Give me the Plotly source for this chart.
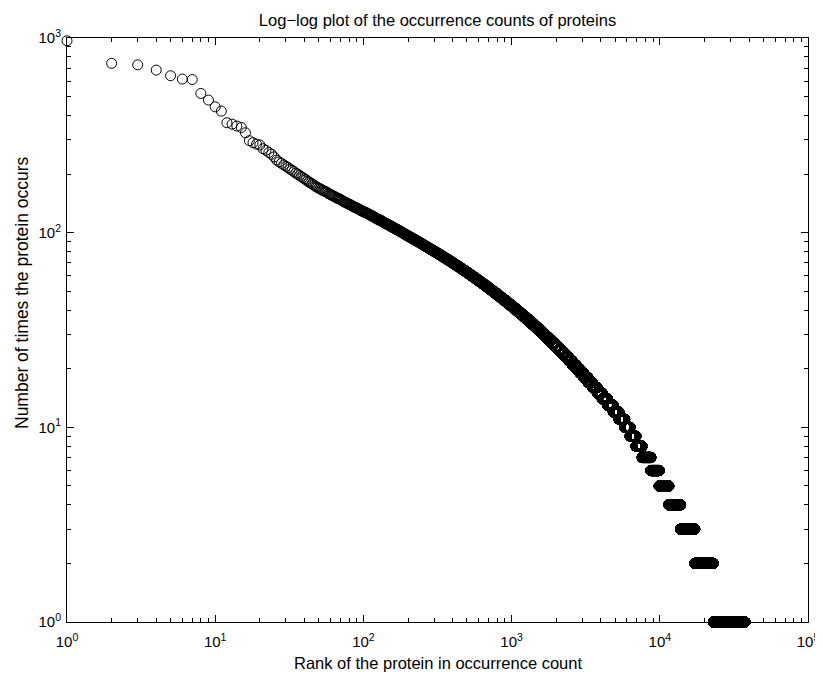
import plotly.graph_objects as go

# ---- data ----
# occurrence counts of the top-ranked proteins (ranks 1..104)
head_counts = [968, 741, 728, 684, 640, 615, 612, 519, 480, 443,
               421, 367, 361, 353, 347, 326, 297, 290, 285, 282,
               270, 265, 258, 253, 245, 236, 231, 227, 223, 219,
               216, 212, 209, 206, 202, 200, 197, 194, 192, 189,
               187, 184, 182, 180, 178, 176, 174, 172, 171, 169,
               168, 167, 165, 164, 163, 162, 161, 159, 158, 157,
               156, 155, 154, 153, 152, 151, 150, 150, 149, 148,
               147, 146, 145, 144, 144, 143, 142, 141, 141, 140,
               139, 139, 138, 137, 137, 136, 135, 135, 134, 134,
               133, 133, 132, 131, 131, 130, 130, 129, 129, 128,
               128, 127, 127, 127]

# remaining proteins: count level and the last rank that holds this count
level_counts = [126, 125, 124, 123, 122, 121, 120, 119, 118, 117,
                116, 115, 114, 113, 112, 111, 110, 109, 108, 107,
                106, 105, 104, 103, 102, 101, 100, 99, 98, 97,
                96, 95, 94, 93, 92, 91, 90, 89, 88, 87,
                86, 85, 84, 83, 82, 81, 80, 79, 78, 77,
                76, 75, 74, 73, 72, 71, 70, 69, 68, 67,
                66, 65, 64, 63, 62, 61, 60, 59, 58, 57,
                56, 55, 54, 53, 52, 51, 50, 49, 48, 47,
                46, 45, 44, 43, 42, 41, 40, 39, 38, 37,
                36, 35, 34, 33, 32, 31, 30, 29, 28, 27,
                26, 25, 24, 23, 22, 21, 20, 19, 18, 17,
                16, 15, 14, 13, 12, 11, 10, 9, 8, 7,
                6, 5, 4, 3, 2, 1]
level_last_rank = [106, 108, 110, 112, 115, 117, 119, 122, 124, 127,
                   130, 133, 135, 138, 141, 144, 148, 151, 154, 158,
                   161, 165, 169, 173, 177, 181, 185, 189, 194, 198,
                   203, 208, 213, 219, 224, 230, 236, 242, 248, 254,
                   261, 268, 275, 282, 290, 298, 306, 315, 324, 333,
                   342, 352, 362, 373, 384, 395, 406, 418, 431, 444,
                   457, 471, 486, 501, 516, 532, 549, 567, 585, 604,
                   624, 645, 666, 689, 713, 737, 763, 790, 819, 848,
                   880, 913, 947, 984, 1022, 1063, 1105, 1150, 1198, 1248,
                   1301, 1357, 1417, 1480, 1547, 1619, 1696, 1778, 1865, 1960,
                   2061, 2171, 2291, 2420, 2561, 2716, 2885, 3072, 3280, 3511,
                   3780, 4085, 4440, 4850, 5300, 5800, 6300, 6900, 7600, 8700,
                   9900, 11500, 13800, 17200, 23000, 37500]

x_tick_values = [1, 10, 100, 1000, 10000, 100000]
x_tick_labels = ["10<sup>0</sup>", "10<sup>1</sup>", "10<sup>2</sup>",
                 "10<sup>3</sup>", "10<sup>4</sup>", "10<sup>5</sup>"]
y_tick_values = [1, 10, 100, 1000]
y_tick_labels = ["10<sup>0</sup>", "10<sup>1</sup>", "10<sup>2</sup>", "10<sup>3</sup>"]

title_text = "Log\u2212log plot of the occurrence counts of proteins"
x_label = "Rank of the protein in occurrence count"
y_label = "Number of times the protein occurs"

# ---- expand to one point per protein (rank, count) ----
ranks = list(range(1, len(head_counts) + 1))
counts = list(head_counts)
prev = len(head_counts)
for c, last in zip(level_counts, level_last_rank):
    ranks.extend(range(prev + 1, last + 1))
    counts.extend([c] * (last - prev))
    prev = last

x_minor = [k * 10 ** d for d in range(0, 5) for k in range(2, 10)]
y_minor = [k * 10 ** d for d in range(0, 3) for k in range(2, 10)]

FONT = "Liberation Sans, Arial, Helvetica, sans-serif"

# the page body adds an 8 px offset; the figure is sized so that the
# plot box lands on x 67..808, y 38..622 of the 823x674 window
W, H = 815, 666

fig = go.Figure()
fig.add_trace(go.Scatter(
    x=ranks, y=counts, mode="markers",
    marker=dict(symbol="circle-open", size=10, color="black",
                line=dict(width=1, color="black")),
    cliponaxis=False, showlegend=False, hoverinfo="skip",
))

axis_common = dict(
    type="log", showgrid=False, zeroline=False, automargin=False,
    showline=True, linecolor="black", linewidth=1, mirror="ticks",
    ticks="inside", ticklen=7, tickwidth=1, tickcolor="black",
    tickfont=dict(family=FONT, size=15, color="black"),
)

fig.update_xaxes(
    range=[0, 5], tickvals=x_tick_values, ticktext=x_tick_labels,
    ticklabelstandoff=6,
    minor=dict(ticks="inside", ticklen=4, tickwidth=1, tickcolor="black",
               tickvals=x_minor, showgrid=False),
    **axis_common,
)
fig.update_yaxes(
    range=[0, 3], tickvals=y_tick_values, ticktext=y_tick_labels,
    ticklabelstandoff=2,
    minor=dict(ticks="inside", ticklen=4, tickwidth=1, tickcolor="black",
               tickvals=y_minor, showgrid=False),
    **axis_common,
)

fig.update_layout(
    width=W, height=H,
    margin=dict(l=59, r=15, t=30, b=52),
    paper_bgcolor="white", plot_bgcolor="white",
    font=dict(family=FONT, size=15, color="black"),
    title=dict(text=title_text,
               x=429.5 / W, xanchor="center", y=1 - 12 / H, yanchor="middle",
               yref="container", font=dict(family=FONT, size=16.5, color="black")),
    annotations=[
        dict(text=x_label, xref="paper", yref="paper", x=0.5, y=-(663 - 622) / 584,
             xanchor="center", yanchor="middle", showarrow=False,
             font=dict(family=FONT, size=16.5, color="black")),
        dict(text=y_label, xref="paper", yref="paper", x=-(67 - 22) / 741,
             y=(622 - 293) / 584,
             xanchor="center", yanchor="middle", textangle=-90, showarrow=False,
             font=dict(family=FONT, size=17.5, color="black")),
    ],
)

fig.write_html("out.html")
